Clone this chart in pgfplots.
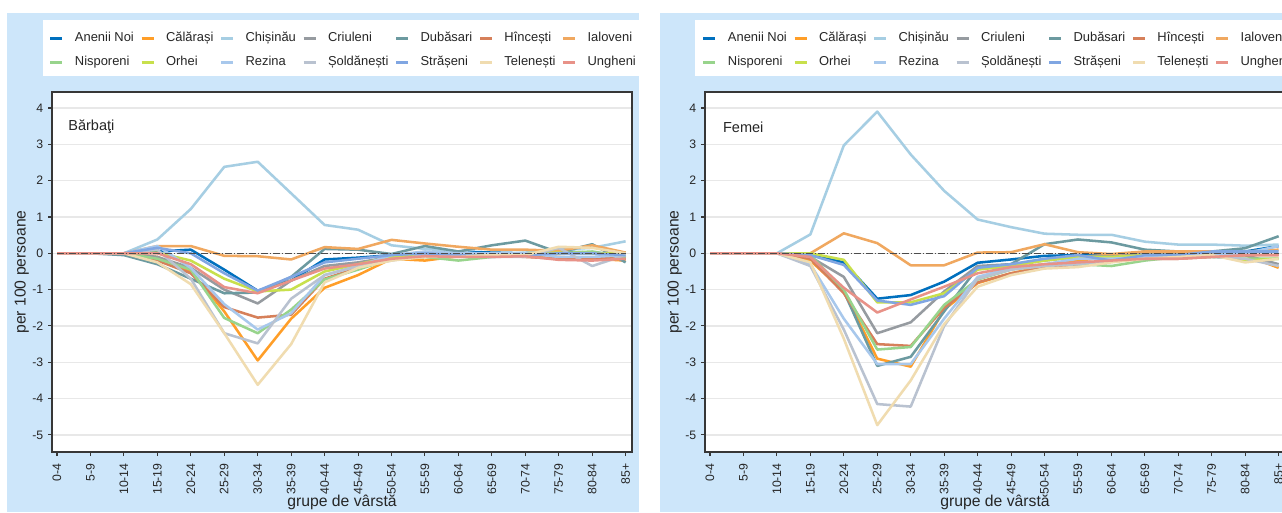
\documentclass[border=0pt]{standalone}
\usepackage{fontspec}
\setmainfont{Liberation Sans}
\usepackage{pgfplots}
\usepackage{pgfplotstable}
\pgfplotsset{compat=1.18}

\definecolor{bgblue}{RGB}{205,230,250}
\definecolor{framegray}{RGB}{55,55,55}
\definecolor{gridgray}{RGB}{232,232,232}
\definecolor{cAn}{RGB}{0,112,190}
\definecolor{cCa}{RGB}{255,158,40}
\definecolor{cCh}{RGB}{166,206,227}
\definecolor{cCr}{RGB}{150,155,160}
\definecolor{cDu}{RGB}{108,154,160}
\definecolor{cHi}{RGB}{214,128,90}
\definecolor{cIa}{RGB}{240,168,96}
\definecolor{cNi}{RGB}{152,212,140}
\definecolor{cOr}{RGB}{200,224,76}
\definecolor{cRe}{RGB}{168,200,236}
\definecolor{cSo}{RGB}{185,194,208}
\definecolor{cSt}{RGB}{128,166,226}
\definecolor{cTe}{RGB}{240,220,176}
\definecolor{cUn}{RGB}{232,146,136}

% barbati: x = grupa de varsta (0 = 0-4 ... 17 = 85+)
\pgfplotstableread{
x  an    ca    ch    cr    du    hi    ia    ni    or    re    so    st    te    un
0  0     0     0     0     0     0     0     0     0     0     0     0     0     0
1  0     0     0     0     0     0     0     0     0     0     0     0     0     0
2  0     0     0     0     -0.05 0     0     0     0     0     0     0     0     0
3  0.05  -0.1  0.38  -0.1  -0.3  -0.2  0.2   -0.15 0.02  0.2   0.1   0.15  -0.25 0.0
4  0.1   -0.5  1.22  -0.4  -0.7  -0.55 0.2   -0.45 -0.2  -0.4  -0.7  0.0   -0.85 -0.3
5  -0.45 -1.6  2.38  -1.0  -1.1  -1.48 -0.07 -1.78 -0.7  -1.4  -2.2  -0.55 -2.2  -0.93
6  -1.03 -2.95 2.52  -1.38 -1.08 -1.77 -0.08 -2.2  -1.05 -2.1  -2.48 -1.03 -3.62 -1.1
7  -0.75 -1.8  1.65  -0.75 -0.65 -1.69 -0.17 -1.55 -1.0  -1.65 -1.25 -0.65 -2.5  -0.75
8  -0.17 -0.95 0.78  -0.35 0.12  -0.7  0.17  -0.72 -0.5  -0.6  -0.6  -0.25 -0.8  -0.42
9  -0.12 -0.6  0.65  -0.25 0.1   -0.4  0.12  -0.45 -0.3  -0.35 -0.35 -0.15 -0.4  -0.3
10 -0.05 -0.15 0.22  -0.1  -0.02 -0.15 0.37  -0.15 -0.1  -0.05 -0.2  -0.05 -0.2  -0.15
11 0.0   -0.2  0.12  0     0.2   -0.1  0.27  -0.1  0     0.05  -0.05 0     -0.1  -0.08
12 0.05  -0.08 0.05  0     0.05  -0.08 0.18  -0.2  0     0     -0.05 -0.05 -0.1  -0.1
13 0.02  -0.05 -0.05 -0.05 0.22  -0.05 0.1   -0.1  0     0     -0.1  -0.1  -0.05 -0.1
14 0     -0.03 0.02  -0.05 0.35  -0.1  0.1   -0.05 0     0     -0.1  -0.05 -0.05 -0.08
15 0.05  -0.1  0.1   0     0.02  -0.15 0.07  0     0.02  -0.1  0.15  0     0.18  -0.18
16 0.02  -0.15 0.15  0     0.25  -0.12 0.22  0.05  0     -0.1  -0.35 0     0.15  -0.2
17 -0.05 -0.2  0.33  -0.15 -0.25 -0.15 0.02  -0.1  0     -0.05 -0.05 -0.05 0     -0.15
}\barbati

% femei
\pgfplotstableread{
x  an    ca    ch    cr    du    hi    ia    ni    or    re    so    st    te    un
0  0     0     0     0     0     0     0     0     0     0     0     0     0     0
1  0     0     0     0     0     0     0     0     0     0     0     0     0     0
2  0     0     0     0     0     0     0     0     0     0     0     0     0     0
3  -0.05 -0.2  0.52  -0.1  -0.1  -0.15 0.0   -0.05 0.0   -0.3  -0.35 -0.05 -0.25 -0.1
4  -0.25 -1.05 2.97  -0.65 -1.05 -1.1  0.55  -1.0  -0.18 -1.8  -2.1  -0.32 -2.35 -0.95
5  -1.25 -2.9  3.9   -2.2  -3.1  -2.5  0.28  -2.65 -1.35 -3.05 -4.15 -1.3  -4.73 -1.63
6  -1.15 -3.12 2.72  -1.9  -2.85 -2.55 -0.33 -2.58 -1.35 -3.05 -4.22 -1.42 -3.5  -1.27
7  -0.78 -1.55 1.72  -1.05 -1.6  -1.5  -0.33 -1.42 -1.1  -1.8  -2.0  -1.18 -1.95 -0.92
8  -0.26 -0.82 0.93  -0.35 -0.4  -0.8  0.02  -0.72 -0.45 -0.65 -0.7  -0.4  -0.92 -0.55
9  -0.17 -0.55 0.72  -0.3  -0.3  -0.55 0.03  -0.45 -0.35 -0.4  -0.45 -0.3  -0.6  -0.38
10 -0.07 -0.35 0.54  -0.2  0.25  -0.4  0.25  -0.3  -0.2  -0.3  -0.35 -0.15 -0.42 -0.3
11 -0.05 -0.2  0.51  -0.1  0.38  -0.3  0.03  -0.3  -0.1  -0.15 -0.3  -0.05 -0.38 -0.25
12 -0.05 -0.1  0.51  -0.05 0.3   -0.2  -0.02 -0.35 -0.1  -0.15 -0.2  -0.2  -0.25 -0.2
13 0     0.05  0.32  0     0.1   -0.15 0.05  -0.2  -0.05 -0.1  -0.15 -0.05 -0.15 -0.15
14 0     0.05  0.24  0     0.05  -0.15 0.05  -0.1  -0.05 -0.05 -0.1  -0.05 -0.1  -0.15
15 0.05  0.0   0.24  0     0.05  -0.1  0.05  -0.1  -0.05 -0.05 -0.1  0.05  -0.05 -0.1
16 0.05  -0.05 0.21  -0.05 0.14  -0.05 0.05  -0.15 -0.2  0     -0.15 0.05  -0.25 -0.05
17 0.2   -0.4  0.24  -0.3  0.47  -0.05 0.1   -0.15 -0.15 0.2   -0.35 0.05  -0.15 -0.05
}\femei

\pgfplotsset{
  panel/.style={
    anchor=south west, scale only axis, width=435pt, height=270pt,
    xmin=-0.15, xmax=17.19, ymin=-5.47, ymax=4.44,
    xtick={0,...,17},
    xticklabels={0-4,5-9,10-14,15-19,20-24,25-29,30-34,35-39,40-44,45-49,50-54,55-59,60-64,65-69,70-74,75-79,80-84,85+},
    ytick={-5,...,4},
    axis background/.style={fill=white},
    axis line style={draw=framegray, line width=1.1pt},
    ymajorgrids, grid style={draw=gridgray, line width=0.9pt},
    tick align=outside, xtick pos=bottom, ytick pos=left,
    major tick length=3pt,
    tick style={draw=framegray, line width=0.8pt},
    /pgf/number format/assume math mode=true,
    tick label style={font=\fontsize{9.2}{10}\selectfont, text=black!85},
    xticklabel style={rotate=90, anchor=east, xshift=-2pt},
    ylabel={per 100 persoane}, xlabel={grupe de vârstă},
    label style={font=\fontsize{11.8}{13}\selectfont, text=black!85},
    ylabel style={at={(axis description cs:-0.052,0.5)}, anchor=center},
    xlabel style={at={(axis description cs:0.5,-0.141)}, anchor=center},
    every axis plot/.append style={line width=1.9pt, line join=round},
    legend columns=7,
    legend style={draw=none, fill=none, inner sep=0pt,
      at={(0,1.185)}, anchor=north west, xshift=-2.5pt, yshift=-3pt,
      font=\fontsize{9.7}{11}\selectfont, text=black!85,
      /tikz/every odd column/.append style={column sep=6.2pt},
      /tikz/every even column/.append style={column sep=2.6pt},
      row sep=5.4pt},
    legend cell align=left,
    legend image code/.code={\draw[#1, line width=2.3pt] (0pt,0pt) -- (9pt,0pt);},
  },
  zero/.style={forget plot, draw=black!70, line width=0.7pt,
    dash pattern=on 5pt off 1.5pt on 1pt off 1.5pt},
}

\newcommand{\series}[1]{%
  \addplot[cAn] table[x=x,y=an] {#1};
  \addplot[cCa] table[x=x,y=ca] {#1};
  \addplot[cCh] table[x=x,y=ch] {#1};
  \addplot[cCr] table[x=x,y=cr] {#1};
  \addplot[cDu] table[x=x,y=du] {#1};
  \addplot[cHi] table[x=x,y=hi] {#1};
  \addplot[cIa] table[x=x,y=ia] {#1};
  \addplot[cNi] table[x=x,y=ni] {#1};
  \addplot[cOr] table[x=x,y=or] {#1};
  \addplot[cRe] table[x=x,y=re] {#1};
  \addplot[cSo] table[x=x,y=so] {#1};
  \addplot[cSt] table[x=x,y=st] {#1};
  \addplot[cTe] table[x=x,y=te] {#1};
  \addplot[cUn] table[x=x,y=un] {#1};
  \addplot[zero] coordinates {(0,0) (17,0)};
  \legend{Anenii Noi,Călărași,Chișinău,Criuleni,Dubăsari,Hîncești,Ialoveni,
    Nisporeni,Orhei,Rezina,Șoldănești,Strășeni,Telenești,Ungheni}
}

\begin{document}
\begin{tikzpicture}
\fill[bgblue] (5.25pt,0pt) rectangle (479.25pt,374.25pt);
\fill[bgblue] (495pt,0pt) rectangle (969pt,374.25pt);
\fill[white] (32.25pt,327pt) rectangle (479.25pt,369pt);
\fill[white] (521.25pt,327pt) rectangle (969pt,369pt);

\begin{axis}[panel, at={(39pt,45pt)}]
\series{\barbati}
\node[anchor=west, font=\fontsize{10.9}{12}\selectfont, text=black!85]
  at (rel axis cs:0.020,0.903) {Bărbaţi};
\end{axis}

\begin{axis}[panel, at={(528.75pt,45pt)}]
\series{\femei}
\node[anchor=west, font=\fontsize{10.9}{12}\selectfont, text=black!85]
  at (rel axis cs:0.023,0.903) {Femei};
\end{axis}

\pgfresetboundingbox
\useasboundingbox (0pt,0pt) rectangle (961.5pt,384pt);
\end{tikzpicture}
\end{document}
